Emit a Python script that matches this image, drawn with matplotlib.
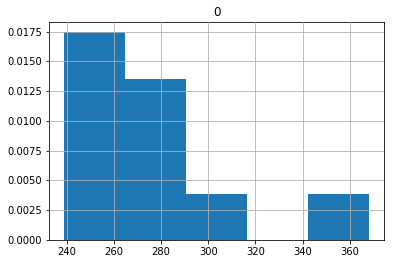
import matplotlib
matplotlib.use("Agg")
import matplotlib.pyplot as plt
import numpy as np

# histogram: 20 values in 5 bins (density)
bin_edges = [239.0, 264.8, 290.6, 316.4, 342.2, 368.0]
bin_counts = [9, 7, 2, 0, 2]
title = "0"

edges = np.array(bin_edges)
centers = (edges[:-1] + edges[1:]) / 2

fig = plt.figure(figsize=(394 / 72, 264 / 72), dpi=72)
ax = fig.add_axes([49 / 394, 1 - 240 / 264, (384 - 49) / 394, (240 - 22) / 264])
ax.hist(centers, bins=edges, weights=bin_counts, density=True, color="#1f77b4")
ax.grid(True)
ax.set_axisbelow(False)
ax.set_title(title)

fig.savefig("out.png", dpi=72)
